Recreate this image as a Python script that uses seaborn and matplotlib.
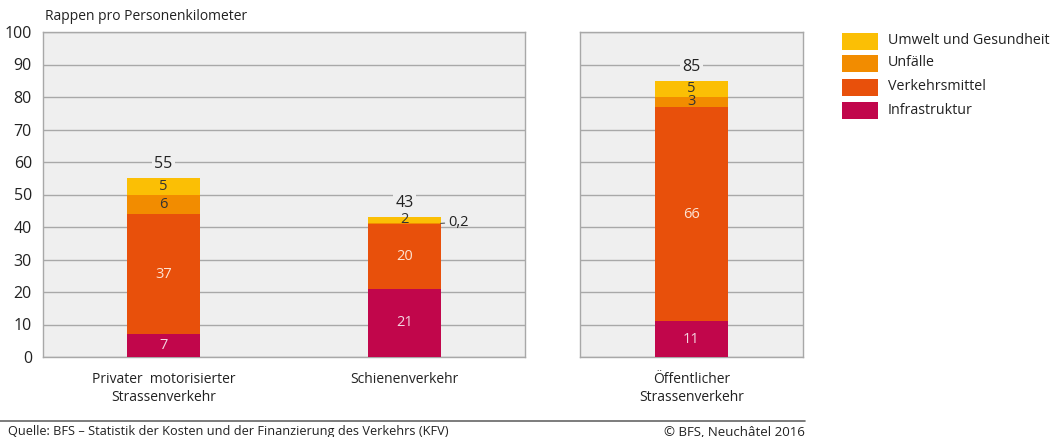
import numpy as np
import pandas as pd
import matplotlib
matplotlib.use("Agg")
import matplotlib.pyplot as plt
import seaborn as sns

# Kosten je Verkehrsträger, Rappen pro Personenkilometer
categories = ["Privater  motorisierter\nStrassenverkehr", "Schienenverkehr", "Öffentlicher\nStrassenverkehr"]
infrastruktur = [7, 21, 11]
verkehrsmittel = [37, 20, 66]
unfaelle = [6, 0.2, 3]
umwelt = [5, 2, 5]
totals = [55, 43, 85]

series_names = ["Infrastruktur", "Verkehrsmittel", "Unfälle", "Umwelt und Gesundheit"]
series_values = [infrastruktur, verkehrsmittel, unfaelle, umwelt]
colors = ["#c1064b", "#e8500b", "#f28c00", "#fbbf05"]
label_colors = ["#f3d6e0", "#fde3d3", "#333333", "#333333"]
segment_labels = [["7", "21", "11"], ["37", "20", "66"], ["6", "", "3"], ["5", "2", "5"]]

yticks = [0, 10, 20, 30, 40, 50, 60, 70, 80, 90, 100]

sns.set_theme(style="white")
plt.rcParams["font.family"] = ["Open Sans", "DejaVu Sans"]

panel_bg = "#efefef"
grid_col = "#a8a8a8"
text_col = "#222222"

fig = plt.figure(figsize=(10.54, 4.37), dpi=100)
ax_l = fig.add_axes([43 / 1054, 1 - 357 / 437, 482 / 1054, 325 / 437])
ax_r = fig.add_axes([580 / 1054, 1 - 357 / 437, 223 / 1054, 325 / 437])

df = pd.DataFrame({"Kategorie": categories})
for name, vals in zip(series_names, series_values):
    df[name] = vals
cum = df[series_names].cumsum(axis=1)

# same pixel bar width in both panels
groups = [(ax_l, [0, 1], 0.30), (ax_r, [2], 0.30 * 241 / 223)]

for ax, idx, w in groups:
    sub = df.iloc[idx].reset_index(drop=True)
    subcum = cum.iloc[idx].reset_index(drop=True)
    order = list(sub["Kategorie"])
    # stacked bars: draw cumulative totals from the top layer downwards
    for k in range(len(series_names) - 1, -1, -1):
        sns.barplot(x=sub["Kategorie"], y=subcum[series_names[k]], order=order,
                    color=colors[k], width=w, saturation=1, ax=ax,
                    edgecolor="none", linewidth=0, zorder=3)
    ax.set_facecolor(panel_bg)
    ax.set_ylim(0, 100)
    ax.set_yticks(yticks)
    ax.grid(axis="y", color=grid_col, linewidth=1.0, zorder=0)
    ax.grid(axis="x", visible=False)
    for s in ax.spines.values():
        s.set_color(grid_col)
        s.set_linewidth(1.0)
    ax.set_xlabel("")
    ax.set_ylabel("")
    ax.tick_params(axis="x", length=0, pad=11, labelsize=10, colors=text_col)
    ax.set_xticks(range(len(order)))
    ax.set_xticklabels(order, linespacing=1.25)

    for j, i in enumerate(idx):
        base = 0.0
        for k, name in enumerate(series_names):
            v = series_values[k][i]
            lab = segment_labels[k][i]
            if lab:
                ax.text(j, base + v / 2, lab, ha="center", va="center",
                        fontsize=10.5, color=label_colors[k], zorder=5)
            base += v
        ax.text(j, base + 1.8, str(totals[i]), ha="center", va="bottom",
                fontsize=11.5, color=text_col, zorder=5,
                bbox=dict(facecolor=panel_bg, edgecolor="none", pad=1.5))

ax_l.set_xlim(-0.5, 1.5)
ax_r.set_xlim(-0.5, 0.5)
ax_l.tick_params(axis="y", length=0, pad=8, labelsize=11.5, colors=text_col)
ax_r.tick_params(axis="y", left=False, labelleft=False)

# Unfälle Schiene: kleiner Wert mit Führungslinie
y_rail = infrastruktur[1] + verkehrsmittel[1] + unfaelle[1] / 2
ax_l.annotate("0,2", xy=(1.15, y_rail), xytext=(1.18, y_rail + 0.4),
              fontsize=10.5, color=text_col, va="center", ha="left",
              arrowprops=dict(arrowstyle="-", color="#555555", lw=0.8,
                              shrinkA=0, shrinkB=0), zorder=6)

fig.text(45 / 1054, 1 - 17 / 437, "Rappen pro Personenkilometer", fontsize=10,
         color=text_col, ha="left", va="center")

# Legende
leg_y = [41, 63, 87, 110]
for k_leg, k in enumerate([3, 2, 1, 0]):
    y = 1 - leg_y[k_leg] / 437
    fig.patches.append(plt.Rectangle((842 / 1054, y - 9 / 437), 36 / 1054, 17 / 437,
                                     transform=fig.transFigure, facecolor=colors[k],
                                     edgecolor="none"))
    fig.text(888 / 1054, y, series_names[k], fontsize=10.3, color=text_col,
             ha="left", va="center")

# Fusszeile
fig.add_artist(plt.Line2D([0, 805 / 1054], [1 - 421 / 437] * 2,
                          transform=fig.transFigure, color="#666666", lw=1.2))
fig.text(8 / 1054, 1 - 432 / 437,
         "Quelle: BFS – Statistik der Kosten und der Finanzierung des Verkehrs (KFV)",
         fontsize=9.2, color=text_col, ha="left", va="center")
fig.text(805 / 1054, 1 - 432 / 437, "© BFS, Neuchâtel 2016", fontsize=9.5,
         color=text_col, ha="right", va="center")

fig.savefig("out.png", dpi=100, facecolor="white")
